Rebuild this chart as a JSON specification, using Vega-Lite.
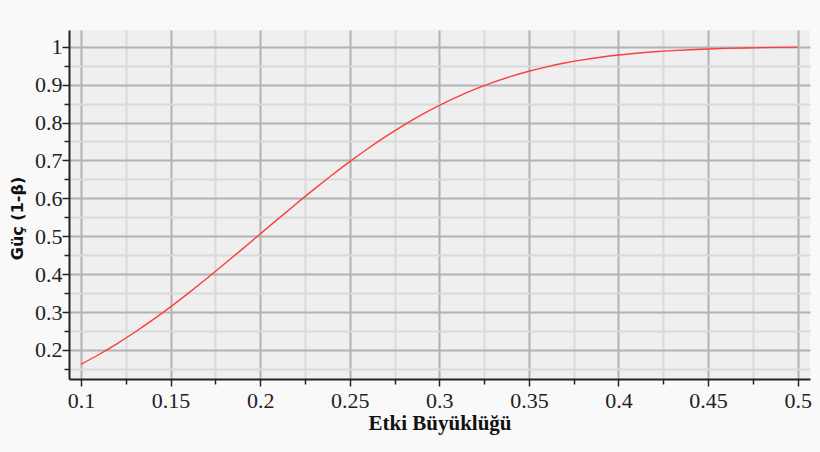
{
  "$schema": "https://vega.github.io/schema/vega-lite/v6.json",
  "width": 741,
  "height": 349,
  "autosize": "none",
  "padding": {"left": 69, "top": 30, "right": 10, "bottom": 73},
  "background": "#f9f9f9",
  "config": {
    "view": {"stroke": null, "fill": "#efefef"}
  },
  "data": {
    "values": [
      {"d": 0.10, "p": 0.1623}, {"d": 0.11, "p": 0.1881}, {"d": 0.12, "p": 0.2162},
      {"d": 0.13, "p": 0.2467}, {"d": 0.14, "p": 0.2793}, {"d": 0.15, "p": 0.3138},
      {"d": 0.16, "p": 0.3501}, {"d": 0.17, "p": 0.3878}, {"d": 0.18, "p": 0.4266},
      {"d": 0.19, "p": 0.4661}, {"d": 0.20, "p": 0.5060}, {"d": 0.21, "p": 0.5458},
      {"d": 0.22, "p": 0.5851}, {"d": 0.23, "p": 0.6236}, {"d": 0.24, "p": 0.6609},
      {"d": 0.25, "p": 0.6967}, {"d": 0.26, "p": 0.7307}, {"d": 0.27, "p": 0.7627},
      {"d": 0.28, "p": 0.7925}, {"d": 0.29, "p": 0.8199}, {"d": 0.30, "p": 0.8450},
      {"d": 0.31, "p": 0.8676}, {"d": 0.32, "p": 0.8878}, {"d": 0.33, "p": 0.9057},
      {"d": 0.34, "p": 0.9215}, {"d": 0.35, "p": 0.9351}, {"d": 0.36, "p": 0.9468},
      {"d": 0.37, "p": 0.9568}, {"d": 0.38, "p": 0.9652}, {"d": 0.39, "p": 0.9723},
      {"d": 0.40, "p": 0.9781}, {"d": 0.41, "p": 0.9828}, {"d": 0.42, "p": 0.9866},
      {"d": 0.43, "p": 0.9897}, {"d": 0.44, "p": 0.9921}, {"d": 0.45, "p": 0.9940},
      {"d": 0.46, "p": 0.9955}, {"d": 0.47, "p": 0.9967}, {"d": 0.48, "p": 0.9976},
      {"d": 0.49, "p": 0.9982}, {"d": 0.50, "p": 0.9987}
    ]
  },
  "mark": {"type": "line", "color": "#ff3c3c", "strokeWidth": 1.4, "interpolate": "monotone"},
  "encoding": {
    "x": {
      "field": "d",
      "type": "quantitative",
      "scale": {"domain": [0.0933, 0.5069], "nice": false, "zero": false},
      "axis": {
        "title": "Etki Büyüklüğü",
        "titleFont": "Liberation Serif",
        "titleFontSize": 21,
        "titleFontWeight": "bold",
        "titleColor": "#111",
        "titlePadding": 1,
        "values": [0.1, 0.125, 0.15, 0.175, 0.2, 0.225, 0.25, 0.275, 0.3, 0.325, 0.35, 0.375, 0.4, 0.425, 0.45, 0.475, 0.5],
        "labelExpr": "abs(datum.value*20 - round(datum.value*20)) < 0.000001 ? format(datum.value, '~g') : ''",
        "labelFont": "Liberation Serif",
        "labelFontSize": 22,
        "labelColor": "#222",
        "labelPadding": 4,
        "labelFlush": false,
        "labelOverlap": false,
        "domainColor": "#222",
        "domainWidth": 2,
        "tickColor": "#222",
        "tickWidth": 1.5,
        "tickSize": {"condition": {"test": "abs(datum.value*20 - round(datum.value*20)) < 0.000001", "value": 7}, "value": 5},
        "grid": true,
        "gridColor": {"condition": {"test": "abs(datum.value*20 - round(datum.value*20)) < 0.000001", "value": "#b2b2b2"}, "value": "#dadada"},
        "gridWidth": 2,
        "gridOpacity": 1
      }
    },
    "y": {
      "field": "p",
      "type": "quantitative",
      "scale": {"domain": [0.1235, 1.044], "nice": false, "zero": false},
      "axis": {
        "title": "Güç (1-β)",
        "titleFont": "DejaVu Sans",
        "titleFontSize": 16,
        "titleFontWeight": "bold",
        "titleColor": "#111",
        "titleX": -44,
        "titleY": 188,
        "values": [0.15, 0.2, 0.25, 0.3, 0.35, 0.4, 0.45, 0.5, 0.55, 0.6, 0.65, 0.7, 0.75, 0.8, 0.85, 0.9, 0.95, 1.0],
        "labelExpr": "abs(datum.value*10 - round(datum.value*10)) < 0.000001 ? format(datum.value, '~g') : ''",
        "labelFont": "Liberation Serif",
        "labelFontSize": 22,
        "labelColor": "#222",
        "labelPadding": 0,
        "labelFlush": false,
        "labelOverlap": false,
        "domainColor": "#222",
        "domainWidth": 2,
        "tickColor": "#222",
        "tickWidth": 1.5,
        "tickSize": {"condition": {"test": "abs(datum.value*10 - round(datum.value*10)) < 0.000001", "value": 7}, "value": 5},
        "grid": true,
        "gridColor": {"condition": {"test": "abs(datum.value*10 - round(datum.value*10)) < 0.000001", "value": "#b2b2b2"}, "value": "#dadada"},
        "gridWidth": 2,
        "gridOpacity": 1
      }
    }
  }
}
